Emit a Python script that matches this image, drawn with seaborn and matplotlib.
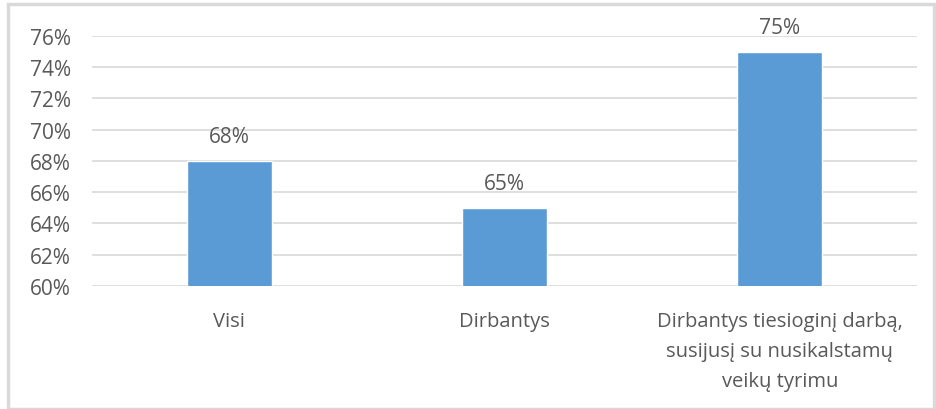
import numpy as np
import pandas as pd
import matplotlib
matplotlib.use("Agg")
import matplotlib.pyplot as plt
import seaborn as sns
from matplotlib.patches import Rectangle

categories = ["Visi", "Dirbantys",
              "Dirbantys tiesioginį darbą,\nsusijusį su nusikalstamų\nveikų tyrimu"]
values = [68, 65, 75]
y_ticks = [60, 62, 64, 66, 68, 70, 72, 74, 76]

BAR = "#5B9BD5"
TEXT = "#595959"
GRID = "#D9D9D9"


def main():
    sns.set_style("white")
    plt.rcParams["font.family"] = ["Open Sans", "DejaVu Sans"]

    df = pd.DataFrame({"cat": categories, "val": values})

    fig = plt.figure(figsize=(9.37, 4.10), dpi=100)
    ax = fig.add_axes([0.098, 0.30, 0.881, 0.61])

    sns.barplot(data=df, x="cat", y="val", color=BAR, width=0.31,
                saturation=1, ax=ax, zorder=3)

    ax.set_ylim(y_ticks[0], y_ticks[-1])
    ax.set_yticks(y_ticks)
    ax.set_yticklabels([f"{t}%" for t in y_ticks])
    ax.set_xlim(-0.5, len(categories) - 0.5)
    ax.yaxis.grid(True, color=GRID, linewidth=1.2, zorder=0)
    ax.set_axisbelow(True)
    for s in ax.spines.values():
        s.set_visible(False)
    ax.set_xlabel("")
    ax.set_ylabel("")
    ax.tick_params(axis="y", length=0, pad=15, labelsize=15, labelcolor=TEXT)
    ax.tick_params(axis="x", length=0, pad=18, labelsize=14.5, labelcolor=TEXT)
    for lbl in ax.get_xticklabels():
        lbl.set_linespacing(1.65)
        lbl.set_verticalalignment("top")

    for i, v in enumerate(values):
        ax.annotate(f"{v}%", (i, v), xytext=(0, 10), textcoords="offset points",
                    ha="center", va="bottom", fontsize=15, color=TEXT)

    fig.patches.append(Rectangle((0.009, 0.0), 0.988, 0.988, transform=fig.transFigure,
                                 fill=False, edgecolor=GRID, linewidth=2.5))

    fig.savefig("out.png", dpi=100, facecolor="white")


if __name__ == "__main__":
    main()
